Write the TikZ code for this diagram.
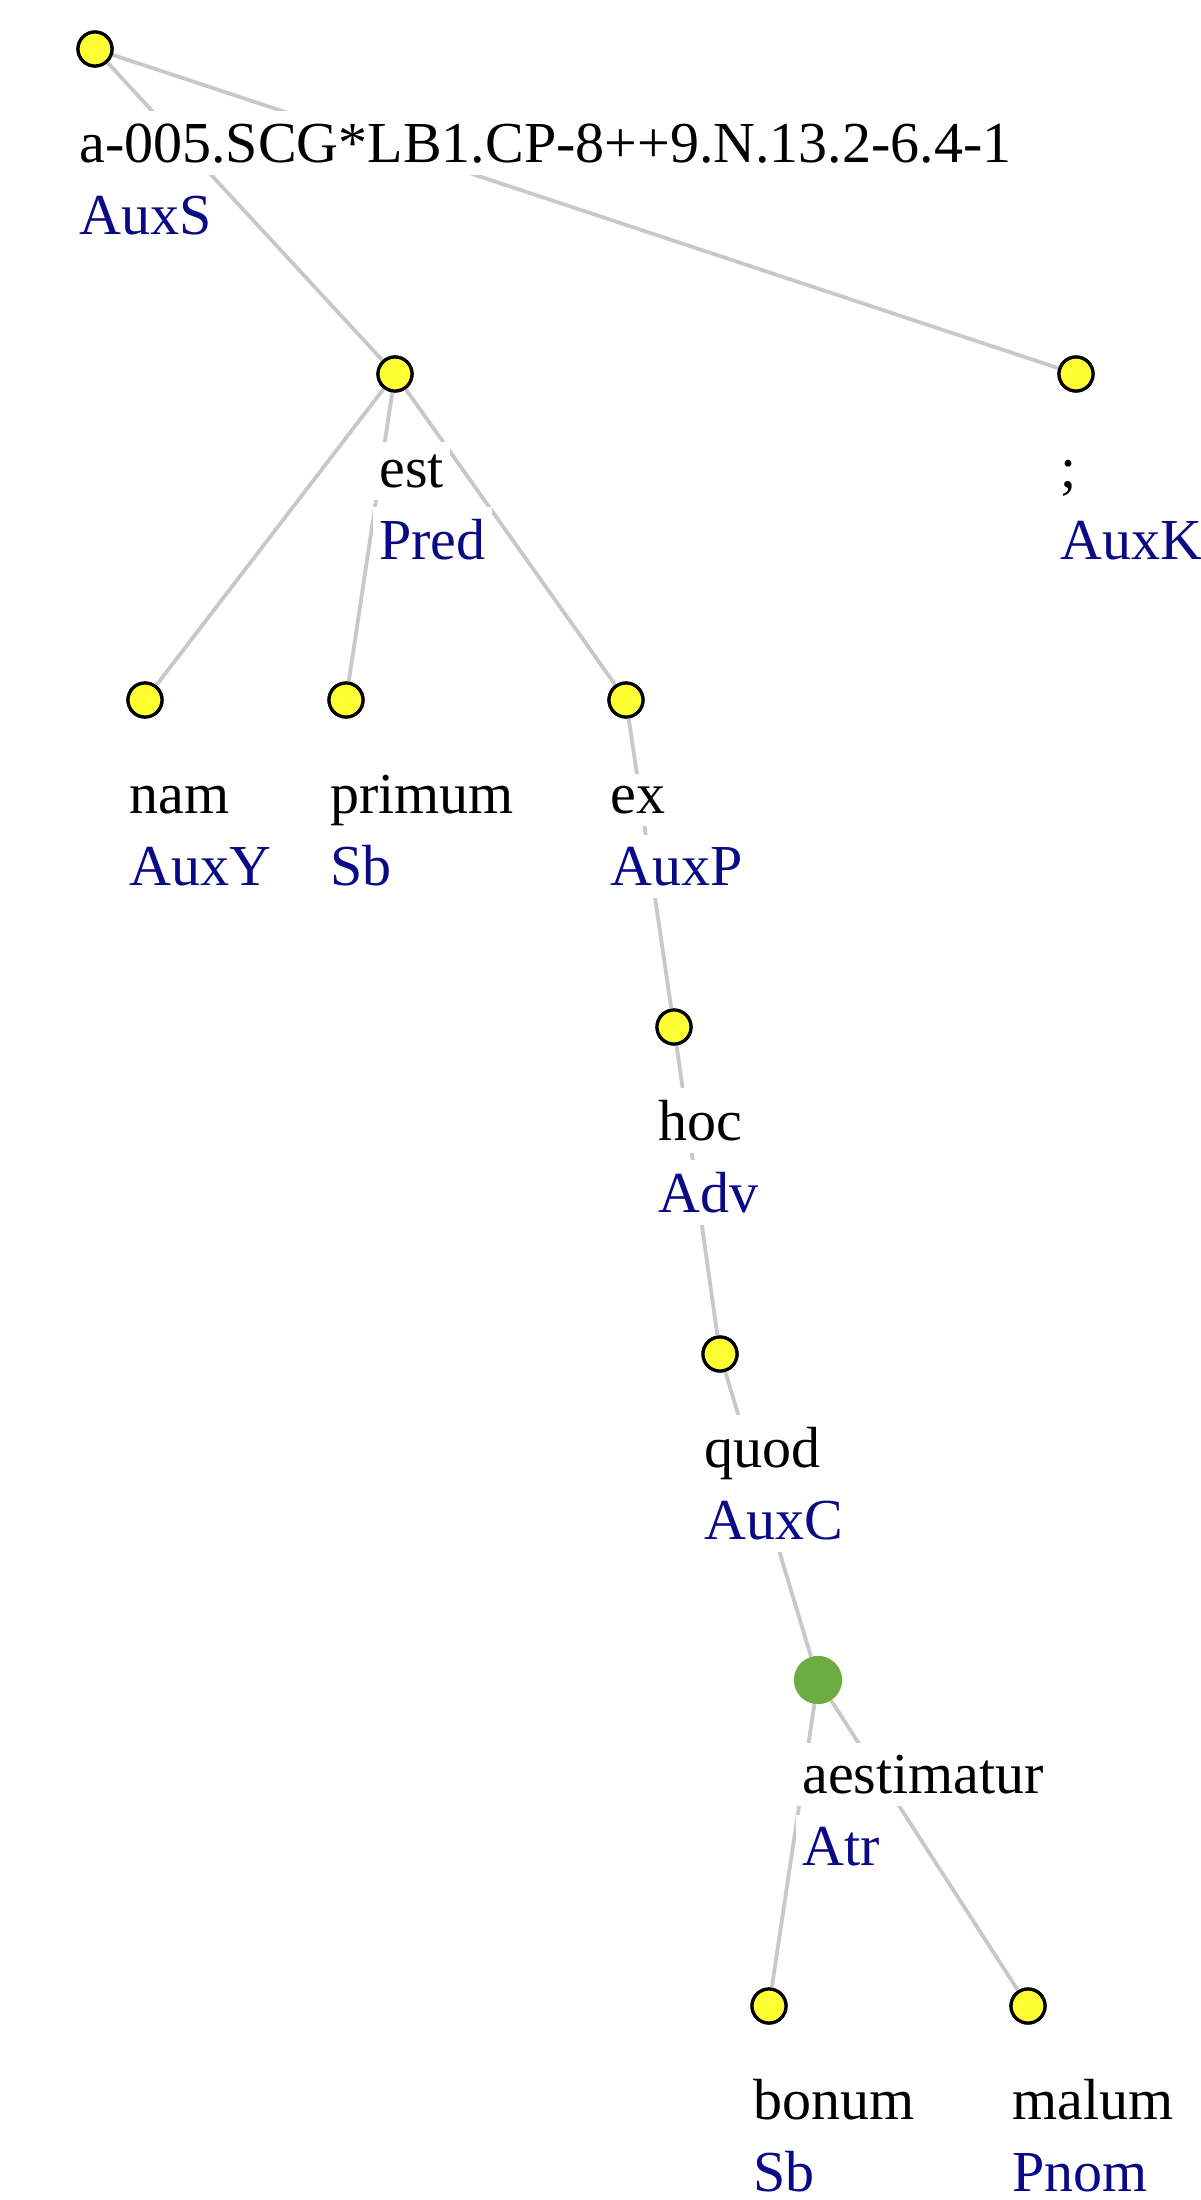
\documentclass[tikz,border=0pt]{standalone}
\usepackage{fontspec}
\setmainfont{Liberation Serif}
\definecolor{edgegray}{RGB}{200,200,200}
\definecolor{nodeyellow}{RGB}{255,255,51}
\definecolor{nodegreen}{RGB}{108,172,64}
\definecolor{tagblue}{RGB}{10,10,135}
\tikzset{
  tok/.style={circle,draw=black,line width=1.6pt,fill=nodeyellow,minimum size=17pt,inner sep=0pt},
  gtok/.style={circle,fill=nodegreen,minimum size=24pt,inner sep=0pt},
  link/.style={draw=edgegray,line width=1.9pt},
  word/.style={anchor=base west,fill=white,inner xsep=3pt,inner ysep=6pt,text=black,font=\fontsize{29}{34}\selectfont},
  tag/.style={anchor=base west,fill=white,inner xsep=3pt,inner ysep=6pt,text=tagblue,font=\fontsize{29}{34}\selectfont}
}
\begin{document}
\begin{tikzpicture}[x=0.5pt,y=-0.5pt]
\useasboundingbox (0,0) rectangle (1200,2200);
% token nodes
\node[tok] (root) at (95,49) {};
\node[tok] (est) at (395,374) {};
\node[tok] (semi) at (1076,374) {};
\node[tok] (nam) at (145,700) {};
\node[tok] (primum) at (346,700) {};
\node[tok] (ex) at (626,700) {};
\node[tok] (hoc) at (674,1027) {};
\node[tok] (quod) at (720,1354) {};
\node[gtok] (aest) at (818,1680) {};
\node[tok] (bonum) at (769,2006) {};
\node[tok] (malum) at (1028,2006) {};
% edges
\draw[link] (root) -- (est);
\draw[link] (root) -- (semi);
\draw[link] (est) -- (nam);
\draw[link] (est) -- (primum);
\draw[link] (est) -- (ex);
\draw[link] (ex) -- (hoc);
\draw[link] (hoc) -- (quod);
\draw[link] (quod) -- (aest);
\draw[link] (aest) -- (bonum);
\draw[link] (aest) -- (malum);
% labels
\node[word] (w0) at (73,162) {a-005.SCG*LB1.CP-8++9.N.13.2-6.4-1};
\node[tag] (t0) at (73,234) {AuxS};
\node[word] (w1) at (373,487) {est};
\node[tag] (t1) at (373,559) {Pred};
\node[word] (w2) at (1054,487) {;};
\node[tag] (t2) at (1054,559) {AuxK};
\node[word] (w3) at (123,813) {nam};
\node[tag] (t3) at (123,885) {AuxY};
\node[word] (w4) at (324,813) {primum};
\node[tag] (t4) at (324,885) {Sb};
\node[word] (w5) at (604,813) {ex};
\node[tag] (t5) at (604,885) {AuxP};
\node[word] (w6) at (652,1140) {hoc};
\node[tag] (t6) at (652,1212) {Adv};
\node[word] (w7) at (698,1467) {quod};
\node[tag] (t7) at (698,1539) {AuxC};
\node[word] (w8) at (796,1793) {aestimatur};
\node[tag] (t8) at (796,1865) {Atr};
\node[word] (w9) at (747,2119) {bonum};
\node[tag] (t9) at (747,2191) {Sb};
\node[word] (w10) at (1006,2119) {malum};
\node[tag] (t10) at (1006,2191) {Pnom};
% redraw token circles on top
\node[tok] at (root) {};
\node[tok] at (est) {};
\node[tok] at (semi) {};
\node[tok] at (nam) {};
\node[tok] at (primum) {};
\node[tok] at (ex) {};
\node[tok] at (hoc) {};
\node[tok] at (quod) {};
\node[gtok] at (aest) {};
\node[tok] at (bonum) {};
\node[tok] at (malum) {};
\end{tikzpicture}
\end{document}
